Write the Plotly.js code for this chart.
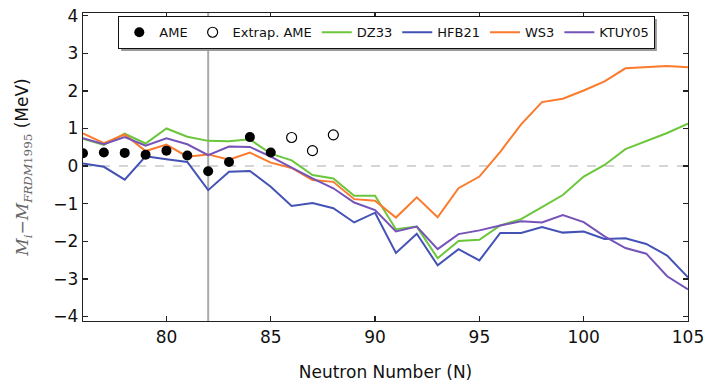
<!DOCTYPE html>
<html>
<head>
<meta charset="utf-8">
<script src="https://cdn.plot.ly/plotly-3.0.1.min.js"></script>
<style>html,body{margin:0;padding:0;background:#fff;}</style>
</head>
<body>
<div id="chart" style="width:707px;height:382px;"></div>
<script>
// ---- data ----
var N = [76,77,78,79,80,81,82,83,84,85,86,87,88,89,90,91,92,93,94,95,96,97,98,99,100,101,102,103,104,105];
var dz33   = [0.73,0.56,0.86,0.60,1.00,0.78,0.67,0.66,0.71,0.33,0.15,-0.24,-0.33,-0.79,-0.79,-1.68,-1.61,-2.45,-1.99,-1.96,-1.58,-1.41,-1.09,-0.77,-0.28,0.03,0.45,0.67,0.88,1.13];
var hfb21  = [0.07,-0.02,-0.36,0.26,0.18,0.11,-0.64,-0.15,-0.13,-0.55,-1.06,-0.98,-1.12,-1.50,-1.24,-2.31,-1.80,-2.64,-2.21,-2.51,-1.78,-1.78,-1.62,-1.77,-1.74,-1.94,-1.92,-2.07,-2.38,-2.96];
var ws3    = [0.87,0.61,0.84,0.40,0.57,0.25,0.31,0.17,0.36,0.09,-0.05,-0.37,-0.42,-0.88,-0.92,-1.37,-0.83,-1.36,-0.59,-0.28,0.38,1.11,1.70,1.79,2.01,2.25,2.60,2.64,2.66,2.63];
var ktuy05 = [0.74,0.58,0.77,0.54,0.74,0.58,0.29,0.52,0.51,0.25,-0.04,-0.33,-0.59,-0.97,-1.17,-1.74,-1.61,-2.21,-1.81,-1.71,-1.58,-1.47,-1.50,-1.30,-1.49,-1.87,-2.18,-2.33,-2.93,-3.28];
var ameN = [76,77,78,79,80,81,82,83,84,85];
var ame  = [0.34,0.36,0.35,0.30,0.41,0.28,-0.14,0.11,0.77,0.36];
var extN = [86,87,88];
var ext  = [0.76,0.41,0.83];
var xTicks = [80,85,90,95,100,105];
var yTicks = [-4,-3,-2,-1,0,1,2,3,4];
var shellN = 82;

var colors = {dz33:'#6cc63c', hfb21:'#4352b5', ws3:'#fb7a2b', ktuy05:'#7553b8'};

function line(name, y, c, rank){
  return {x:N, y:y, name:name, type:'scatter', mode:'lines',
          line:{color:c, width:2}, legendrank:rank};
}
function buildData(){
  return [
    line('DZ33', dz33, colors.dz33, 3),
    line('HFB21', hfb21, colors.hfb21, 4),
    line('WS3', ws3, colors.ws3, 5),
    line('KTUY05', ktuy05, colors.ktuy05, 6),
    {x:ameN, y:ame, name:'AME', type:'scatter', mode:'markers',
     marker:{symbol:'circle', size:10, color:'#000'}, legendrank:1},
    {x:extN, y:ext, name:'Extrap. AME', type:'scatter', mode:'markers',
     marker:{symbol:'circle-open', size:10, color:'#000', line:{width:1.2}}, legendrank:2}
  ];
}

var LEG_X = 0.058, LEG_Y = 0.99;
function buildLayout(extraShapes){
  var axisCommon = {
    showgrid:false, zeroline:false, showline:true, linecolor:'#222', linewidth:1.2,
    mirror:'ticks', ticks:'inside', ticklen:5, tickwidth:1.3, tickcolor:'#222',
    tickfont:{family:'DejaVu Sans', size:17, color:'#111'}
  };
  return {
    width:707, height:382,
    margin:{l:83, r:19, t:13, b:61},
    paper_bgcolor:'#fff', plot_bgcolor:'#fff',
    showlegend:true,
    legend:{orientation:'h', x:LEG_X, y:LEG_Y, xanchor:'left', yanchor:'top',
            bgcolor:'#fff', bordercolor:'#111', borderwidth:1.2,
            font:{family:'DejaVu Sans', size:13, color:'#111'}, traceorder:'normal'},
    xaxis:Object.assign({}, axisCommon, {
      range:[76,105], tickvals:xTicks, ticktext:xTicks.map(String),
      title:{text:'Neutron Number (N)', font:{family:'DejaVu Sans', size:17, color:'#111'}, standoff:21}
    }),
    yaxis:Object.assign({}, axisCommon, {
      range:[-4.12,4.07], tickvals:yTicks, ticktext:yTicks.map(function(v){return v<0?'\u2212'+Math.abs(v):String(v);}),
      title:{text:'<span style="font-family:DejaVu Serif;color:#666"><i>M</i><sub><i>i</i></sub>\u2212<i>M</i><sub><i>FRDM</i>1995</sub></span> (MeV)',
             font:{family:'DejaVu Sans', size:17, color:'#111'}, standoff:20}
    }),
    shapes:[
      {type:'line', xref:'x', yref:'paper', x0:shellN, x1:shellN, y0:0, y1:1,
       line:{color:'#aaaaaa', width:2}, layer:'below'},
      {type:'line', xref:'paper', yref:'y', x0:0, x1:1, y0:0, y1:0,
       line:{color:'#c8c8c8', width:1.6, dash:'dash'}, layer:'below'}
    ].concat(extraShapes || [])
  };
}

var cfg = {displayModeBar:false, staticPlot:true};
var gd = document.getElementById('chart');
Plotly.newPlot(gd, buildData(), buildLayout(), cfg);

// legend drop shadow: size measured from the drawn legend box (fallback estimate)
var lw = 534, lh = 29;
try {
  var bg = gd.querySelector('g.legend rect.bg');
  if (bg) {
    var w = parseFloat(bg.getAttribute('width')), h = parseFloat(bg.getAttribute('height'));
    if (isFinite(w) && w > 0) lw = w;
    if (isFinite(h) && h > 0) lh = h;
  }
} catch(e) {}
var plotW = 707 - 83 - 19, plotH = 382 - 13 - 61, off = 3;
var shadow = {type:'rect', xref:'paper', yref:'paper', layer:'above',
  x0: LEG_X + off/plotW, x1: LEG_X + (lw + off)/plotW,
  y0: LEG_Y - (lh + off)/plotH, y1: LEG_Y - off/plotH,
  fillcolor:'#9a9a9a', opacity:1, line:{width:0}};
Plotly.newPlot(gd, buildData(), buildLayout([shadow]), cfg);
</script>
</body>
</html>
